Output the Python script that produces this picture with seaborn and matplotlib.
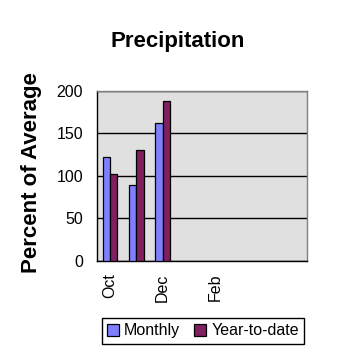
import pandas as pd
import matplotlib.pyplot as plt
import seaborn as sns

# chart values
months = ['Oct', 'Nov', 'Dec', 'Jan', 'Feb', 'Mar', 'Apr', 'May']
shown_labels = ['Oct', '', 'Dec', '', 'Feb', '', '', '']
monthly = [122, 89, 162]
year_to_date = [102, 131, 188]

df = pd.DataFrame({
    'month': months[:3] * 2,
    'series': ['Monthly'] * 3 + ['Year-to-date'] * 3,
    'value': monthly + year_to_date,
})

sns.set_style('white')
plt.rcParams['font.family'] = ['Liberation Sans', 'DejaVu Sans']
plt.rcParams['text.color'] = 'black'
plt.rcParams['xtick.color'] = 'black'
plt.rcParams['ytick.color'] = 'black'
plt.rcParams['xtick.labelcolor'] = 'black'
plt.rcParams['ytick.labelcolor'] = 'black'

fig = plt.figure(figsize=(3.58, 3.58), dpi=100)
ax = fig.add_axes([0.271, 0.271, 0.587, 0.475])
ax.set_facecolor('#e0e0e0')

sns.barplot(data=df, x='month', y='value', hue='series', order=months,
            palette=['#8080ff', '#802060'], width=0.55, edgecolor='black',
            linewidth=0.9, saturation=1, ax=ax, legend=False, zorder=3)

ax.set_xlim(-0.5, len(months) - 0.5)
ax.set_ylim(0, 200)
ax.set_yticks([0, 50, 100, 150, 200])
ax.yaxis.grid(True, color='black', linewidth=1, zorder=1)
ax.set_axisbelow(True)

# labels at the category centres, tick marks at the boundaries
ax.set_xticks(range(len(months)))
ax.set_xticklabels(shown_labels, rotation=90, fontsize=11.5)
ax.set_xticks([i - 0.5 for i in range(len(months) + 1)], minor=True)
ax.tick_params(axis='x', which='major', length=0, pad=9)
ax.tick_params(axis='x', which='minor', length=5, width=1, color='black', direction='out')
ax.tick_params(axis='y', length=5, width=1, color='black', direction='out', labelsize=11.5, pad=5)

for s in ['left', 'bottom']:
    ax.spines[s].set_color('black')
    ax.spines[s].set_linewidth(1)
for s in ['top', 'right']:
    ax.spines[s].set_color('#808080')
    ax.spines[s].set_linewidth(1)

ax.set_xlabel('')
ax.set_ylabel('')
fig.text(32 / 358, 0.517, 'Percent of Average', rotation=90, ha='center', va='center',
         fontsize=16, fontweight='bold', color='black')
fig.text(0.497, 0.87, 'Precipitation', ha='center', va='baseline',
         fontsize=16, fontweight='bold', color='black')

handles = [plt.Rectangle((0, 0), 1, 1, facecolor=c, edgecolor='black', linewidth=0.9)
           for c in ['#8080ff', '#802060']]
leg = fig.legend(handles, ['Monthly', 'Year-to-date'], loc='center',
                 bbox_to_anchor=(0.567, 0.076), ncol=2, fontsize=11.5,
                 frameon=True, fancybox=False, edgecolor='black', framealpha=1,
                 handlelength=0.75, handleheight=0.75, handletextpad=0.3,
                 columnspacing=0.9, borderpad=0.35, borderaxespad=0)
leg.get_frame().set_linewidth(1)

fig.savefig('out.png', dpi=100, facecolor='white')
